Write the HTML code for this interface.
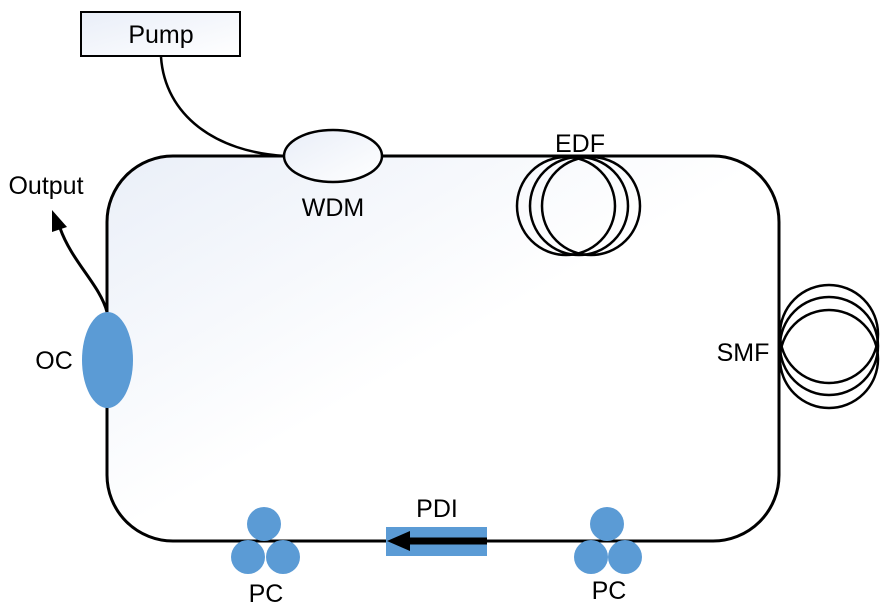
<!DOCTYPE html>
<html><head><meta charset="utf-8"><style>
html,body{margin:0;padding:0;background:#fff;}
svg{display:block;font-family:"Liberation Sans",sans-serif;}
</style></head><body>
<svg width="887" height="614" viewBox="0 0 887 614" xmlns="http://www.w3.org/2000/svg">
<defs>
<linearGradient id="g" x1="0" y1="0" x2="1" y2="1">
<stop offset="0" stop-color="#eaeff8"/><stop offset="0.5" stop-color="#ffffff"/><stop offset="1" stop-color="#ffffff"/>
</linearGradient>
<linearGradient id="g2" x1="0" y1="0" x2="1" y2="1">
<stop offset="0" stop-color="#e9eef8"/><stop offset="1" stop-color="#ffffff"/>
</linearGradient>
</defs>
<rect x="107" y="156" width="672" height="385" rx="66" ry="66" fill="url(#g)" stroke="#000" stroke-width="3"/>
<rect x="81" y="12" width="159" height="44" fill="url(#g2)" stroke="#000" stroke-width="2"/>
<text x="161" y="43" font-size="25" text-anchor="middle">Pump</text>
<path d="M161,57 C165,115 215,152 285,156" fill="none" stroke="#000" stroke-width="2.5"/>
<ellipse cx="333" cy="156" rx="49" ry="26" fill="url(#g2)" stroke="#000" stroke-width="2.5"/>
<text x="333" y="216" font-size="25" text-anchor="middle">WDM</text>
<g fill="none" stroke="#000" stroke-width="2.5">
<circle cx="566" cy="206" r="49"/>
<circle cx="579" cy="206" r="49"/>
<circle cx="591" cy="206" r="49"/>
<circle cx="829" cy="334" r="49"/>
<circle cx="829" cy="346" r="49"/>
<circle cx="829" cy="359" r="49"/>
</g>
<text x="580" y="152" font-size="25" text-anchor="middle">EDF</text>
<text x="743" y="361" font-size="25" text-anchor="middle">SMF</text>
<path d="M107,312 C100,285 72,262 60,228" fill="none" stroke="#000" stroke-width="3"/>
<polygon points="52,210 52,232 67,227" fill="#000"/>
<text x="46" y="194" font-size="25" text-anchor="middle">Output</text>
<ellipse cx="107.5" cy="360" rx="25.5" ry="48" fill="#5b9bd5"/>
<text x="54" y="369" font-size="25" text-anchor="middle">OC</text>
<g fill="#5b9bd5">
<circle cx="264" cy="524" r="17"/><circle cx="248" cy="557" r="17"/><circle cx="283" cy="557" r="17"/>
<circle cx="607" cy="524" r="17"/><circle cx="591" cy="557" r="17"/><circle cx="625" cy="557" r="17"/>
<rect x="386" y="527" width="101" height="29"/>
</g>
<line x1="487" y1="541" x2="405" y2="541" stroke="#000" stroke-width="7"/>
<polygon points="387,541 410,531 410,551" fill="#000"/>
<text x="437" y="517" font-size="25" text-anchor="middle">PDI</text>
<text x="266" y="602" font-size="25" text-anchor="middle">PC</text>
<text x="609" y="599" font-size="25" text-anchor="middle">PC</text>
</svg>
</body></html>
